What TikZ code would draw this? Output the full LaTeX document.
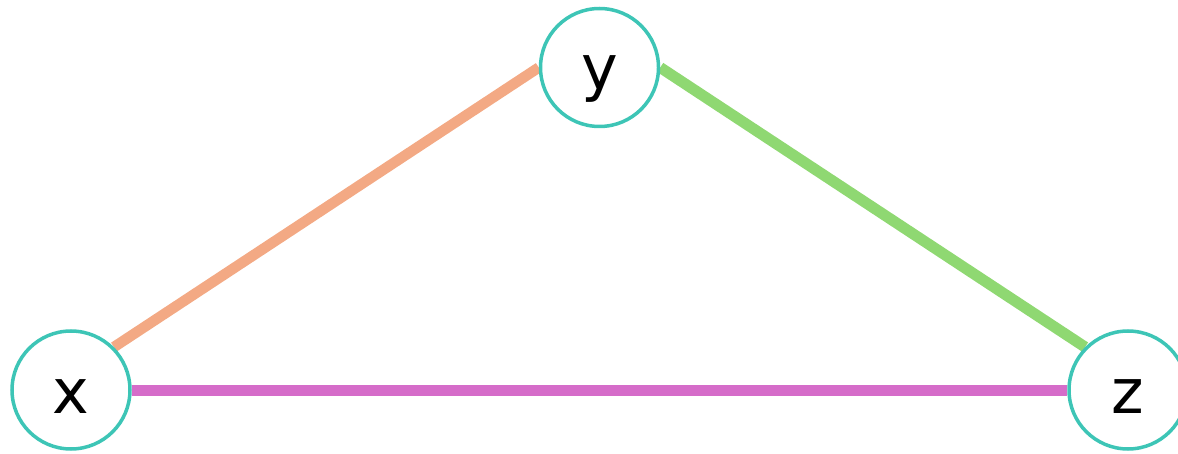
\documentclass[tikz,border=0pt]{standalone}
\usepackage{fontspec}
\setmainfont{DejaVu Sans}
\definecolor{ring}{HTML}{3DC5B6}
\definecolor{edgeorange}{HTML}{F3A984}
\definecolor{edgegreen}{HTML}{8FD872}
\definecolor{edgepink}{HTML}{D56CC9}
\pgfdeclarelayer{bg}
\pgfsetlayers{bg,main}
\begin{document}
\begin{tikzpicture}[x=1pt,y=-1pt,
  vertex/.style={circle,draw=ring,line width=3.5pt,fill=white,minimum size=118pt,inner sep=0pt},
  lbl/.style={anchor=base,inner sep=0pt,font=\fontsize{62}{62}\selectfont},
  link/.style={line width=10.5pt}]
\useasboundingbox (0,0) rectangle (1178,454);
\node[vertex] (x) at (71,390) {};
\node[vertex] (y) at (599.5,67.5) {};
\node[vertex] (z) at (1128,390) {};
\node[lbl] (xl) at (71,413) {x};
\node[lbl] (yl) at (599.5,90) {y};
\node[lbl] (zl) at (1128,413) {z};
\begin{pgfonlayer}{bg}
\draw[link,edgeorange] (x.45) -- (y.west);
\draw[link,edgegreen,line width=11pt] (y.east) -- (z.135);
\draw[link,edgepink,line width=11pt] (x.east) -- (z.west);
\end{pgfonlayer}
\end{tikzpicture}
\end{document}
